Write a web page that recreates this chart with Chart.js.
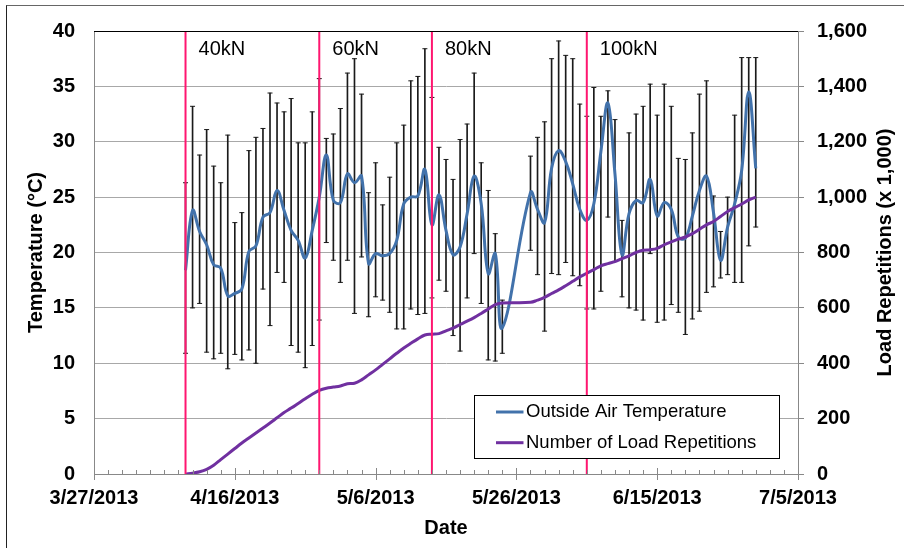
<!DOCTYPE html>
<html><head><meta charset="utf-8">
<script src="https://cdn.jsdelivr.net/npm/chart.js@4"></script>
<style>
html,body{margin:0;padding:0;background:#fff;overflow:hidden;}
#wrap{position:relative;width:904px;height:548px;overflow:hidden;}
#c{position:absolute;left:0;top:0;}
#frame{position:absolute;left:6px;top:5px;width:1000px;height:1000px;border-left:1px solid #222;border-top:1px solid #666;pointer-events:none;}
</style></head><body>
<div id="wrap"><canvas id="c" width="904" height="548"></canvas><div id="frame"></div></div>
<script>
// ---- data ----
const dates = ['4/9','4/10','4/11','4/12','4/13','4/14','4/15','4/16','4/17','4/18',
  '4/19','4/20','4/21','4/22','4/23','4/24','4/25','4/26','4/27','4/28',
  '4/29','4/30','5/1','5/2','5/3','5/4','5/5','5/6','5/7','5/8',
  '5/9','5/10','5/11','5/12','5/13','5/14','5/15','5/16','5/17','5/18',
  '5/19','5/20','5/21','5/22','5/23','5/24',
  '5/28','5/29','5/30','5/31','6/1','6/2','6/3','6/4','6/5','6/6',
  '6/7','6/8','6/9','6/10','6/11','6/12','6/13','6/14','6/15','6/16',
  '6/17','6/18','6/19','6/20','6/21','6/22','6/23','6/24','6/25','6/26',
  '6/27','6/28','6/29'];
const tempMean = [18.4,23.8,21.9,20.7,18.9,18.6,16.1,16.3,16.7,20.1,
  20.6,23.2,23.6,25.6,23.8,22.0,21.1,19.5,22.0,25.0,
  28.8,24.7,24.5,27.1,26.3,26.9,19.0,19.9,19.7,19.9,
  21.1,24.4,25.0,25.1,27.5,22.5,25.2,22.0,19.8,20.5,
  23.5,26.9,24.4,18.1,19.9,13.2,
  25.4,23.9,22.7,27.6,29.2,28.2,26.2,23.9,22.9,24.4,
  29.1,33.5,27.1,19.8,23.5,24.7,24.5,26.6,23.3,24.5,
  23.9,21.4,21.3,23.3,25.6,26.9,23.6,19.3,22.3,24.4,
  27.4,34.5,27.6];
const tempMax = [26.3,33.2,28.8,31.1,27.8,26.3,30.6,22.7,23.6,29.2,
  30.4,31.2,34.4,33.5,32.7,33.9,29.9,29.9,32.7,35.7,
  30.3,30.7,33.0,36.2,37.5,34.3,25.4,28.1,24.3,26.8,
  29.9,31.5,35.5,35.9,38.4,34.0,29.5,28.4,26.6,30.2,
  31.6,36.2,28.1,25.6,21.7,15.7,
  28.7,30.4,31.8,37.5,39.1,37.8,37.5,33.4,32.3,34.9,
  32.3,34.6,32.0,22.9,30.8,32.5,33.2,35.2,32.4,35.2,
  33.2,28.5,28.4,30.8,34.3,35.5,25.1,21.9,25.0,32.4,
  37.6,37.6,37.6];
const tempMin = [10.9,15.0,15.4,11.0,10.4,10.9,9.5,10.8,10.3,11.2,
  10.0,16.7,13.4,18.2,17.3,11.6,11.0,9.6,11.6,13.9,
  20.9,19.3,17.3,19.3,14.5,19.6,14.2,16.0,15.7,14.6,
  13.1,13.1,14.9,14.4,14.5,15.9,17.5,16.5,12.5,11.1,
  15.9,19.9,15.4,10.3,10.2,10.9,
  20.2,18.0,12.9,18.1,18.0,19.1,17.9,17.0,14.9,14.9,
  16.5,23.2,19.2,16.0,15.0,14.8,13.9,19.9,13.7,13.9,
  15.3,14.6,12.6,14.0,14.7,16.4,16.9,17.7,18.0,17.3,
  17.3,20.6,22.3];
const loadReps = [0,3,8,17,32,52,72,92,112,130,
  148,166,184,203,222,238,255,272,288,302,
  310,314,318,326,328,340,358,376,396,416,
  436,455,472,488,502,505,507,517,527,540,
  552,565,580,596,612,618,
  620,628,638,652,665,680,696,712,725,738,
  752,760,767,778,788,800,808,810,815,828,
  838,848,856,868,884,900,912,930,948,962,
  975,990,1000];
const xTickLabels = ['3/27/2013','4/16/2013','5/6/2013','5/26/2013','6/15/2013','7/5/2013'];
const stageDates = ['4/9','4/28','5/14','6/5'];
const stageLabels = ['40kN','60kN','80kN','100kN'];
const seriesNames = ['Outside Air Temperature','Number of Load Repetitions'];
const axisTitles = {x:'Date', y:'Temperature (°C)', y1:'Load Repetitions (x 1,000)'};

// ---- helpers ----
const dayOf = s => { const [m,d] = s.split('/').map(Number); return Math.round((Date.UTC(2013,m-1,d) - Date.UTC(2013,2,27))/864e5); };
const xs = dates.map(dayOf);
const pts = arr => arr.map((v,i) => ({x: xs[i], y: v}));

const FONT = '"Liberation Sans", Arial, sans-serif';
Chart.defaults.font.family = FONT;
Chart.defaults.color = '#000';
const BLUE = '#4272AB', PURPLE = '#7030A0', RED = '#FF1670', BAR = '#1a1a1a';
const boldFont = {size: 20, weight: 'bold', family: FONT};

const overlay = {
  id: 'overlay',
  afterDatasetsDraw(chart) {
    const {ctx, chartArea: a, scales: {x, y}} = chart;
    ctx.save();
    // top border of plot
    ctx.strokeStyle = '#000'; ctx.lineWidth = 1;
    ctx.beginPath(); ctx.moveTo(a.left, Math.round(a.top) + 0.5); ctx.lineTo(a.right, Math.round(a.top) + 0.5); ctx.stroke();
    // x-axis major/minor ticks
    ctx.strokeStyle = '#888';
    x.ticks.forEach(t => {
      const px = Math.round(x.getPixelForValue(t.value)) + 0.5;
      const major = t.value % 20 === 0;
      ctx.beginPath();
      ctx.moveTo(px, a.bottom - (major ? 6 : 4));
      ctx.lineTo(px, a.bottom + (major ? 6 : 0));
      ctx.stroke();
    });
    // stage labels
    ctx.fillStyle = '#000';
    ctx.font = '20px ' + FONT;
    ctx.textAlign = 'left'; ctx.textBaseline = 'middle';
    stageDates.forEach((d, i) => ctx.fillText(stageLabels[i], x.getPixelForValue(dayOf(d)) + 13, y.getPixelForValue(38.3)));
    // legend
    const bx = Math.round(a.right - 324.5) + 0.5, by = Math.round(a.bottom - 79.5) + 0.5, bw = 305, bh = 63;
    ctx.fillStyle = '#fff'; ctx.fillRect(bx, by, bw, bh);
    ctx.strokeStyle = '#000'; ctx.lineWidth = 1; ctx.strokeRect(bx, by, bw, bh);
    ctx.font = '18.5px ' + FONT;
    chart.data.datasets.filter(d => d.inLegend).forEach((d, i) => {
      const cy = by + 16.5 + i * 30.7;
      ctx.strokeStyle = d.borderColor; ctx.lineWidth = 3;
      ctx.beginPath(); ctx.moveTo(bx + 21.5, cy); ctx.lineTo(bx + 49, cy); ctx.stroke();
      ctx.fillStyle = '#000';
      ctx.fillText(d.label, bx + 51.5, cy);
    });
    // right axis title (reads bottom to top)
    ctx.translate(chart.width - 18.5, (a.top + a.bottom) / 2);
    ctx.rotate(-Math.PI / 2);
    ctx.textAlign = 'center';
    ctx.font = 'bold 20px ' + FONT;
    ctx.fillText(axisTitles.y1, 0, 0);
    ctx.restore();
  }
};

new Chart(document.getElementById('c'), {
  type: 'line',
  data: {
    datasets: [
      {type: 'line', label: seriesNames[0], data: pts(tempMean), yAxisID: 'y', borderColor: BLUE, borderWidth: 3,
       pointRadius: 0, tension: 0.4, order: 2, inLegend: true},
      {type: 'line', label: seriesNames[1], data: pts(loadReps), yAxisID: 'y1', borderColor: PURPLE, borderWidth: 3,
       pointRadius: 0, tension: 0.4, order: 1, inLegend: true},
      {type: 'bar', label: 'range', data: dates.map((d, i) => ({x: xs[i], y: [tempMin[i], tempMax[i]]})), yAxisID: 'y',
       backgroundColor: BAR, borderWidth: 0, barThickness: 1, order: 5},
      {type: 'line', label: 'max', data: pts(tempMax), yAxisID: 'y', showLine: false, pointStyle: 'line',
       pointRadius: 2.5, borderWidth: 1, pointBorderWidth: 1, borderColor: BAR, order: 4},
      {type: 'line', label: 'min', data: pts(tempMin), yAxisID: 'y', showLine: false, pointStyle: 'line',
       pointRadius: 2.5, borderWidth: 1, pointBorderWidth: 1, borderColor: BAR, order: 4},
      ...stageDates.map(d => ({type: 'line', label: 'stage', data: [{x: dayOf(d), y: 0}, {x: dayOf(d), y: 40}], yAxisID: 'y',
       borderColor: RED, borderWidth: 2, pointRadius: 0, order: 0}))
    ]
  },
  options: {
    responsive: false,
    animation: false,
    events: [],
    layout: {padding: {top: 24, left: 0, right: 0, bottom: 0}},
    plugins: {legend: {display: false}, tooltip: {enabled: false}},
    scales: {
      x: {type: 'linear', min: 0, max: 100, offset: false,
        grid: {display: true, drawOnChartArea: false, drawTicks: false},
        border: {display: true, color: '#888', width: 1},
        ticks: {stepSize: 2, autoSkip: false, maxRotation: 0, minRotation: 0, padding: 12, font: boldFont, color: '#000',
          callback: v => (v % 20 === 0 ? xTickLabels[v / 20] : '')},
        title: {display: true, text: axisTitles.x, font: boldFont, color: '#000', padding: {top: 0, bottom: 8}},
        afterFit: s => { s.height = 74; }},
      y: {type: 'linear', position: 'left', min: 0, max: 40,
        grid: {color: '#a8a8a8', drawTicks: false},
        border: {display: true, color: '#888'},
        ticks: {stepSize: 5, padding: 19, font: boldFont, color: '#000'},
        title: {display: true, text: axisTitles.y, font: boldFont, color: '#000', padding: {top: 24, bottom: 0}},
        afterFit: s => { s.width = 94; }},
      y1: {type: 'linear', position: 'right', min: 0, max: 1600,
        grid: {drawOnChartArea: false, drawTicks: true, tickLength: 6, color: '#888'},
        border: {display: true, color: '#888'},
        ticks: {stepSize: 200, padding: 13, font: boldFont, color: '#000',
          callback: v => v.toLocaleString('en-US')},
        afterFit: s => { s.width = 106; }}
    }
  },
  plugins: [overlay]
});
</script>
</body></html>
